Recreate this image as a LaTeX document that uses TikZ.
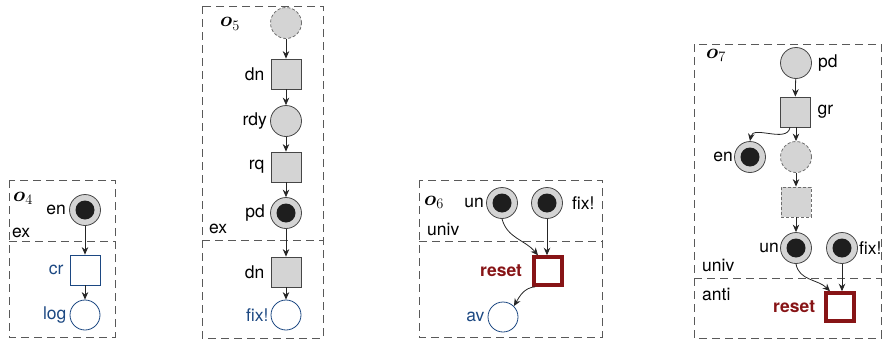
\documentclass[tikz,border=0pt]{standalone}
\usepackage{fontspec}
\setmainfont{TeX Gyre Heros}
\usepackage{amsmath,amssymb}
\usetikzlibrary{arrows.meta}

\definecolor{placegray}{RGB}{212,212,212}
\definecolor{edgegray}{RGB}{70,70,70}
\definecolor{ghostgray}{RGB}{110,110,110}
\definecolor{tokenblack}{RGB}{30,30,30}
\definecolor{bluec}{RGB}{28,72,130}
\definecolor{redc}{RGB}{135,20,22}

\tikzset{
  lbl/.style={font=\fontsize{17.5}{20}\selectfont, inner sep=0pt},
  place/.style={circle, draw=edgegray, fill=placegray, line width=0.8pt,
    minimum size=31pt, inner sep=0pt},
  marked/.style={place, path picture={\fill[tokenblack]
    (path picture bounding box.center) circle (9.5pt);}},
  ghostplace/.style={place, draw=ghostgray, dash pattern=on 3pt off 2pt},
  trans/.style={rectangle, draw=edgegray, fill=placegray, line width=0.8pt,
    minimum size=30pt, inner sep=0pt},
  ghosttrans/.style={trans, draw=ghostgray, dash pattern=on 3pt off 2pt},
  bplace/.style={circle, draw=bluec, fill=white, line width=0.8pt,
    minimum size=30pt, inner sep=0pt},
  btrans/.style={rectangle, draw=bluec, fill=white, line width=0.8pt,
    minimum size=30pt, inner sep=0pt},
  rtrans/.style={rectangle, draw=redc, fill=white, line width=3.5pt,
    minimum size=28pt, inner sep=0pt},
  arc/.style={-{Stealth[length=7.5pt,width=6.5pt]}, draw=black!85, line width=0.8pt},
  frame/.style={draw=black!65, line width=1pt, dash pattern=on 8pt off 5pt},
  tag/.style={anchor=base west, inner sep=0pt, font=\fontsize{20}{22}\selectfont},
  zone/.style={lbl, anchor=base west},
  bl/.style={lbl, text=bluec},
  rl/.style={lbl, text=redc, font=\fontsize{17.5}{20}\selectfont\bfseries}
}

\begin{document}
\begin{tikzpicture}[x=1pt, y=-1pt]
\useasboundingbox (0,0) rectangle (883,340);

% ---------- o4 ----------
\draw[frame] (9,180) rectangle (115,337);
\draw[frame] (9,241) -- (115,241);
\node[tag] (t4) at (13,201) {$\boldsymbol{o}_4$};
\node[zone] (z4) at (12,237) {ex};
\node[marked, label={[lbl, label distance=3pt]left:en}] (en4) at (85,210) {};
\node[btrans, label={[bl, label distance=6pt]left:cr}] (cr4) at (85,270) {};
\node[bplace, label={[bl, label distance=3pt]left:log}] (log4) at (85,315) {};
\draw[arc] (en4) -- (cr4);
\draw[arc] (cr4) -- (log4);

% ---------- o5 ----------
\draw[frame] (202,6) rectangle (323,338);
\draw[frame] (202,240) -- (323,240);
\node[tag] (t5) at (220,27) {$\boldsymbol{o}_5$};
\node[zone] (z5) at (209,233) {ex};
\node[ghostplace] (g5) at (286,23) {};
\node[trans, label={[lbl, label distance=6pt]left:dn}] (dn5) at (286,74) {};
\node[place, label={[lbl, label distance=3pt]left:rdy}] (rdy5) at (286,121) {};
\node[trans, label={[lbl, label distance=6pt]left:rq}] (rq5) at (286,167) {};
\node[marked, label={[lbl, label distance=5pt]left:pd}] (pd5) at (286,213) {};
\node[trans, label={[lbl, label distance=6pt]left:dn}] (dnb5) at (286,272) {};
\node[bplace, label={[bl, label distance=2pt]left:fix!}] (fix5) at (286,315) {};
\draw[arc] (g5) -- (dn5);
\draw[arc] (dn5) -- (rdy5);
\draw[arc] (rdy5) -- (rq5);
\draw[arc] (rq5) -- (pd5);
\draw[arc] (pd5) -- (dnb5);
\draw[arc] (dnb5) -- (fix5);

% ---------- o6 ----------
\draw[frame] (419,180) rectangle (602,337);
\draw[frame] (419,241) -- (602,241);
\node[tag] (t6) at (424,205) {$\boldsymbol{o}_6$};
\node[zone] (z6) at (427,235) {univ};
\node[marked, label={[lbl, label distance=2pt]left:un}] (un6) at (502,203) {};
\node[marked, label={[lbl, label distance=9pt]right:fix!}] (fix6) at (547,203) {};
\node[rtrans, label={[rl, label distance=10pt]left:reset}] (rs6) at (548,271) {};
\node[bplace, label={[bl, label distance=3pt]left:av}] (av6) at (503,317) {};
\draw[arc] (un6.south) to[out=-75, in=130] ([xshift=-10pt]rs6.north);
\draw[arc] (fix6.south) -- (fix6.south |- rs6.north);
\draw[arc] ([xshift=3pt]rs6.south west) to[out=185, in=60] (av6.north east);

% ---------- o7 ----------
\draw[frame] (694,44) rectangle (881,338);
\draw[frame] (694,278) -- (881,278);
\node[tag] (t7) at (706,58) {$\boldsymbol{o}_7$};
\node[zone] (z7a) at (702,271) {univ};
\node[zone] (z7b) at (702,300) {anti};
\node[place, label={[lbl, label distance=6pt]right:pd}] (pd7) at (796,63) {};
\node[trans, label={[lbl, label distance=7pt]right:gr}] (gr7) at (795,112) {};
\node[marked, label={[lbl, label distance=1pt]left:en}] (en7) at (750,157) {};
\node[ghostplace] (gp7) at (796,157) {};
\node[ghosttrans] (gt7) at (796,202) {};
\node[marked, label={[lbl, label distance=1pt]left:un}] (un7) at (796,248) {};
\node[marked, label={[lbl, label distance=1pt]right:fix!}] (fix7) at (842,248) {};
\node[rtrans, label={[rl, label distance=9pt]left:reset}] (rs7) at (840,307) {};
\draw[arc] (pd7) -- (gr7);
\draw[arc] ([xshift=-5pt]gr7.south) to[out=-100, in=80] (en7.north);
\draw[arc] (gr7.south -| gp7) -- (gp7);
\draw[arc] (gp7) -- (gt7);
\draw[arc] (gt7) -- (un7);
\draw[arc] (un7.south) to[out=-80, in=135] ([xshift=-10pt]rs7.north);
\draw[arc] (fix7.south) -- (fix7.south |- rs7.north);
\end{tikzpicture}
\end{document}
